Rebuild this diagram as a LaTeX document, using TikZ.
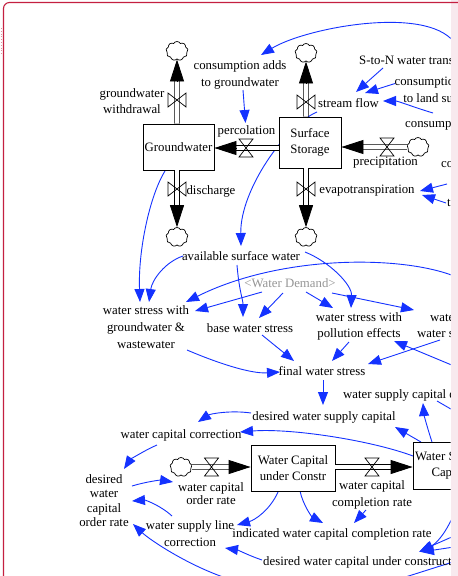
\documentclass[tikz,border=0pt]{standalone}
\usepackage{fontspec}
\setmainfont{Liberation Serif}
\usetikzlibrary{arrows.meta,shapes.symbols,calc,backgrounds}
\definecolor{linkblue}{RGB}{20,50,255}
\definecolor{framered}{RGB}{196,32,64}
\definecolor{edgepink}{RGB}{248,233,238}
\definecolor{shadowgray}{RGB}{150,150,150}
\tikzset{
  lbl/.style={font=\fontsize{12.8}{16.5}\selectfont, align=center, inner sep=0pt, text=black},
  stock/.style={lbl, draw=black, line width=0.8pt, fill=white},
  cloudy/.style={cloud, cloud puffs=9, cloud puff arc=120, cloud ignores aspect, draw=black,
    line width=0.7pt, fill=white, minimum width=22pt, minimum height=19pt, inner sep=0pt},
  pipe/.style={draw=black, line width=0.8pt, double=white, double distance=3.6pt},
  ftip/.style={draw=black, line width=0.8pt, -{Triangle[length=22pt,width=14pt]}},
  lnk/.style={draw=linkblue, line width=0.9pt, -{Triangle[length=13pt,width=10pt]}},
  plainlnk/.style={draw=linkblue, line width=0.9pt},
  vvalve/.pic={\draw[black, line width=0.7pt] (-9,-7) -- (-9,7) -- (9,-7) -- (9,7) -- cycle;},
  hvalve/.pic={\draw[black, line width=0.7pt] (-7,-9) -- (7,-9) -- (-7,9) -- (7,9) -- cycle;}
}
\begin{document}
\begin{tikzpicture}[x=1pt,y=-1pt]
\useasboundingbox (0,0) rectangle (458,576);

\begin{scope}
\clip (0,0) rectangle (450.5,576);

% ---- stocks ----
\node[stock, minimum width=71pt, minimum height=46pt] (GW) at (178.5,147) {Groundwater};
\node[stock, minimum width=62pt, minimum height=51pt] (SS) at (310,142.5) {Surface\\Storage};
\node[stock, minimum width=84pt, minimum height=46pt] (WC) at (293,468) {Water Capital\\under Constr};
\node[stock, minimum width=74pt, minimum height=47pt] (WSC) at (450,465.5) {Water Supply\\Capital};

% ---- sources and sinks ----
\node[cloudy] (c1) at (177,51) {};
\node[cloudy] (c2) at (306,53) {};
\node[cloudy] (c3) at (418,147) {};
\node[cloudy] (c4) at (177,237) {};
\node[cloudy] (c5) at (306,237) {};
\node[cloudy] (c6) at (181,467) {};

% ---- valve positions ----
\coordinate (vW) at (177,100);
\coordinate (vS) at (306,102);
\coordinate (vP) at (246,148);
\coordinate (vPr) at (387,147);
\coordinate (vD) at (177,189);
\coordinate (vE) at (306,189);
\coordinate (vO) at (211.5,467);
\coordinate (vC) at (372,467);

% ---- flow labels ----
\node[lbl] (lW) at (132,101) {groundwater\\withdrawal};
\node[lbl] (lS) at (348.5,103) {stream flow};
\node[lbl] (lP) at (246.5,131) {percolation};
\node[lbl] (lPr) at (385.5,163) {precipitation};
\node[lbl] (lD) at (211,191) {discharge};
\node[lbl] (lE) at (367,191) {evapotranspiration};
\node[lbl, font=\fontsize{12.8}{13.5}\selectfont] (lO) at (211,493.5) {water capital\\order rate};
\node[lbl] (lC) at (372,495) {water capital\\completion rate};

% ---- auxiliaries ----
\node[lbl] (consgw) at (240,75) {consumption adds\\to groundwater};
\node[lbl, anchor=west] (ston) at (359,60) {S-to-N water transfer};
\node[lbl] (consland) at (441,89.5) {consumption adds\\to land surface};
\node[lbl, anchor=west] (cons3) at (405,125) {consumption};
\node[lbl, anchor=west] (cons4) at (441,165) {consumption};
\node[lbl, anchor=west] (tvar) at (447,204) {temperature};
\node[lbl] (avail) at (241,256) {available surface water};
\node[lbl, text=shadowgray] (wd) at (290,283) {<Water Demand>};
\node[lbl, font=\fontsize{12.8}{17}\selectfont] (wsgw) at (146,327.5) {water stress with\\groundwater \&\\wastewater};
\node[lbl] (base) at (250,328) {base water stress};
\node[lbl, font=\fontsize{12.8}{16}\selectfont] (wspe) at (359,326) {water stress with\\pollution effects};
\node[lbl, anchor=west, align=left, font=\fontsize{12.8}{16}\selectfont] (wsx) at (417,326) {\hspace*{13pt}water stress with\\water saving effects};
\node[lbl] (final) at (322,371) {final water stress};
\node[lbl, anchor=west] (wscd) at (343,395) {water supply capital depreciation};
\node[lbl] (dwsc) at (324,417) {desired water supply capital};
\node[lbl] (wcc) at (181,435) {water capital correction};
\node[lbl, font=\fontsize{12.8}{14.3}\selectfont] (dwcor) at (104,500.5) {desired\\water\\capital\\order rate};
\node[lbl] (wslc) at (190,533.5) {water supply line\\correction};
\node[lbl] (iwccr) at (332,534) {indicated water capital completion rate};
\node[lbl, anchor=west] (dwcuc) at (263,562) {desired water capital under construction};

% ---- loose ends of links running off the sheet ----
\coordinate (rtop) at (454,42);
\coordinate (rstress) at (454,276);
\coordinate (rpoll) at (454,366);
\coordinate (rcapA) at (454,536);
\coordinate (rcapB) at (454,547);
\coordinate (rdep) at (456,412);
\coordinate (bdesired) at (232,580);
\coordinate (bline) at (396,580);
\coordinate (rbot) at (456,561);

% ---- information links ----
\begin{scope}[on background layer]
\fill[white] (0,0) rectangle (458,576);
\clip (0,0) rectangle (450.5,576);
\draw[lnk] (rtop) .. controls +(-29,-37) and +(44,-27) .. ([shift={(21,-20)}]consgw.center);
\draw[lnk] ([shift={(3,15)}]consgw.center) -- ([shift={(-1,-8)}]lP.center);
\draw[lnk] ([shift={(24,8)}]ston.west) -- ([shift={(7.5,-11)}]lS.center);
\draw[lnk] ([shift={(-46,-6)}]consland.center) -- ([shift={(16.5,-10)}]lS.center);
\draw[lnk] ([shift={(28,-12)}]cons3.west) .. controls +(-20,-6) and +(15,0) .. ([shift={(34.5,-2)}]lS.center);
\draw[lnk] ([shift={(6,19)}]cons4.west) -- ([shift={(53,0)}]lE.center);
\draw[lnk] ([shift={(-1,-1)}]tvar.west) -- ([shift={(55,4)}]lE.center);
\draw[lnk] ([shift={(11,10)}]vS) .. controls +(-31,13) and +(-1,-56) .. ([shift={(0,-10)}]avail.center);
\draw[lnk] ([shift={(-13.5,24)}]GW.center) .. controls +(-15,24) and +(-2,-52) .. ([shift={(-6,-25.5)}]wsgw.center);
\draw[lnk] ([shift={(-58,0)}]avail.center) .. controls +(-18,6) and +(3,-22) .. ([shift={(3,-25.5)}]wsgw.center);
\draw[lnk] ([shift={(-4,9)}]avail.center) .. controls +(2,25) and +(0,-17) .. ([shift={(-7,-11)}]base.center);
\draw[lnk] ([shift={(64,-4)}]avail.center) .. controls +(25,10) and +(1,-23) .. ([shift={(-8,-18)}]wspe.center);
\draw[lnk] ([shift={(-28,9)}]wd.center) -- ([shift={(49,-16.5)}]wsgw.center);
\draw[lnk] ([shift={(-7,10)}]wd.center) -- ([shift={(9,-10)}]base.center);
\draw[lnk] ([shift={(16,9)}]wd.center) -- ([shift={(-26,-18)}]wspe.center);
\draw[lnk] ([shift={(42,10)}]wd.center) -- ([shift={(-3,-16)}]wsx.west);
\draw[lnk] (rstress) .. controls +(-54,-21) and +(94,-47) .. ([shift={(40,-25.5)}]wsgw.center);
\draw[lnk] ([shift={(41,22.5)}]wsgw.center) .. controls +(28,12) and +(-30,2) .. ([shift={(-42,1)}]final.center);
\draw[lnk] ([shift={(12,7)}]base.center) -- ([shift={(-28,-10)}]final.center);
\draw[lnk] ([shift={(-10,16)}]wspe.center) -- ([shift={(10,-10)}]final.center);
\draw[lnk] ([shift={(23,14)}]wsx.west) -- ([shift={(46,-7)}]final.center);
\draw[lnk] (rpoll) -- ([shift={(35,15)}]wspe.center);
\draw[lnk] ([shift={(1,9)}]final.center) -- ([shift={(-1,-12)}]dwsc.center);
\draw[lnk] ([shift={(-73,-4)}]dwsc.center) .. controls +(-21,-3) and +(12,-8) .. ([shift={(17,-13)}]wcc.center);
\draw[lnk] ([shift={(-37,-9.5)}]WSC.center) .. controls +(-43,-16) and +(50,-4) .. ([shift={(59,-3)}]wcc.center);
\draw[lnk] ([shift={(-24,10)}]wcc.center) .. controls +(-12,5) and +(6,-9) .. ([shift={(20,-31.5)}]dwcor.center);
\draw[lnk] ([shift={(28,-14.5)}]dwcor.center) .. controls +(13,-4) and +(-13,-2) .. ([shift={(-38,-11.5)}]lO.center);
\draw[lnk] ([shift={(-18,-17.5)}]wslc.center) .. controls +(-12,-11) and +(13,-1) .. ([shift={(28,0.5)}]dwcor.center);
\draw[lnk] (bdesired) .. controls +(-42,-13) and +(17,16) .. ([shift={(29,23.5)}]dwcor.center);
\draw[lnk] ([shift={(-15,24)}]WC.center) .. controls +(-8,18) and +(18,-5) .. ([shift={(47,-8.5)}]wslc.center);
\draw[lnk] ([shift={(7,23)}]WC.center) .. controls +(3,14) and +(-11,-6) .. ([shift={(-9,-11)}]iwccr.center);
\draw[lnk] ([shift={(-6,15)}]lC.center) -- ([shift={(22,-11)}]iwccr.center);
\draw[lnk] ([shift={(12,23)}]WSC.center) .. controls +(-7,31.5) and +(21,-10) .. ([shift={(156,-10)}]dwcuc.west);
\draw[lnk] (rcapA) -- ([shift={(157,-11)}]dwcuc.west);
\draw[lnk] (rcapB) -- ([shift={(158,-10)}]dwcuc.west);
\draw[lnk] ([shift={(-1,-2)}]dwcuc.west) .. controls +(-12,-4) and +(13,2) .. ([shift={(35,14.5)}]wslc.center);
\draw[lnk] ([shift={(-18,-23.5)}]WSC.center) .. controls +(-4,-12) and +(1,12) .. ([shift={(80,8)}]wscd.west);
\draw[lnk] ([shift={(-29,-23.5)}]WSC.center) -- ([shift={(71,10)}]dwsc.center);
\draw[plainlnk] ([shift={(94,6)}]wscd.west) -- (rdep);
\draw[plainlnk] (bline) -- (rbot);
\end{scope}

% ---- material flows (pipe, then its head at the receiving end) ----
\coordinate (wTop) at (c1.south);
\draw[pipe] (GW.north -| c1) -- ([yshift=-21pt]wTop);
\draw[ftip] ([yshift=-22pt]wTop) -- (wTop);

\coordinate (sTop) at (c2.south);
\draw[pipe] (SS.north -| c2) -- ([yshift=-21pt]sTop);
\draw[ftip] ([yshift=-22pt]sTop) -- (sTop);

\coordinate (pEnd) at (vP -| GW.east);
\draw[pipe] (vP -| SS.west) -- ([xshift=21pt]pEnd);
\draw[ftip] ([xshift=22pt]pEnd) -- (pEnd);

\coordinate (prEnd) at (vPr -| SS.east);
\draw[pipe] (c3.west) -- ([xshift=20pt]prEnd);
\draw[ftip] ([xshift=21pt]prEnd) -- (prEnd);

\coordinate (dEnd) at (c4.north);
\draw[pipe] (GW.south -| c4) -- ([yshift=21pt]dEnd);
\draw[ftip] ([yshift=22pt]dEnd) -- (dEnd);

\coordinate (eEnd) at (c5.north);
\draw[pipe] (SS.south -| c5) -- ([yshift=21pt]eEnd);
\draw[ftip] ([yshift=22pt]eEnd) -- (eEnd);

\coordinate (oEnd) at (vO -| WC.west);
\draw[pipe] (c6.east) -- ([xshift=-19pt]oEnd);
\draw[ftip] ([xshift=-20pt]oEnd) -- (oEnd);

\coordinate (cEnd) at (vC -| WSC.west);
\draw[pipe] (vC -| WC.east) -- ([xshift=-19pt]cEnd);
\draw[ftip] ([xshift=-20pt]cEnd) -- (cEnd);

% ---- valves ----
\pic at (vW) {vvalve};
\pic at (vS) {vvalve};
\pic at (vD) {vvalve};
\pic at (vE) {vvalve};
\pic at (vP) {hvalve};
\pic at (vPr) {hvalve};
\pic at (vO) {hvalve};
\pic at (vC) {hvalve};
\end{scope}

% ---- window edge and frame ----
\fill[edgepink] (450.5,0) rectangle (458,576);
\draw[framered, line width=1.1pt, rounded corners=6pt] (3.5,2.5) rectangle (480,600);
\draw[framered!50, line width=0.8pt, dotted] (1,28) -- (1,55);
\end{tikzpicture}
\end{document}
